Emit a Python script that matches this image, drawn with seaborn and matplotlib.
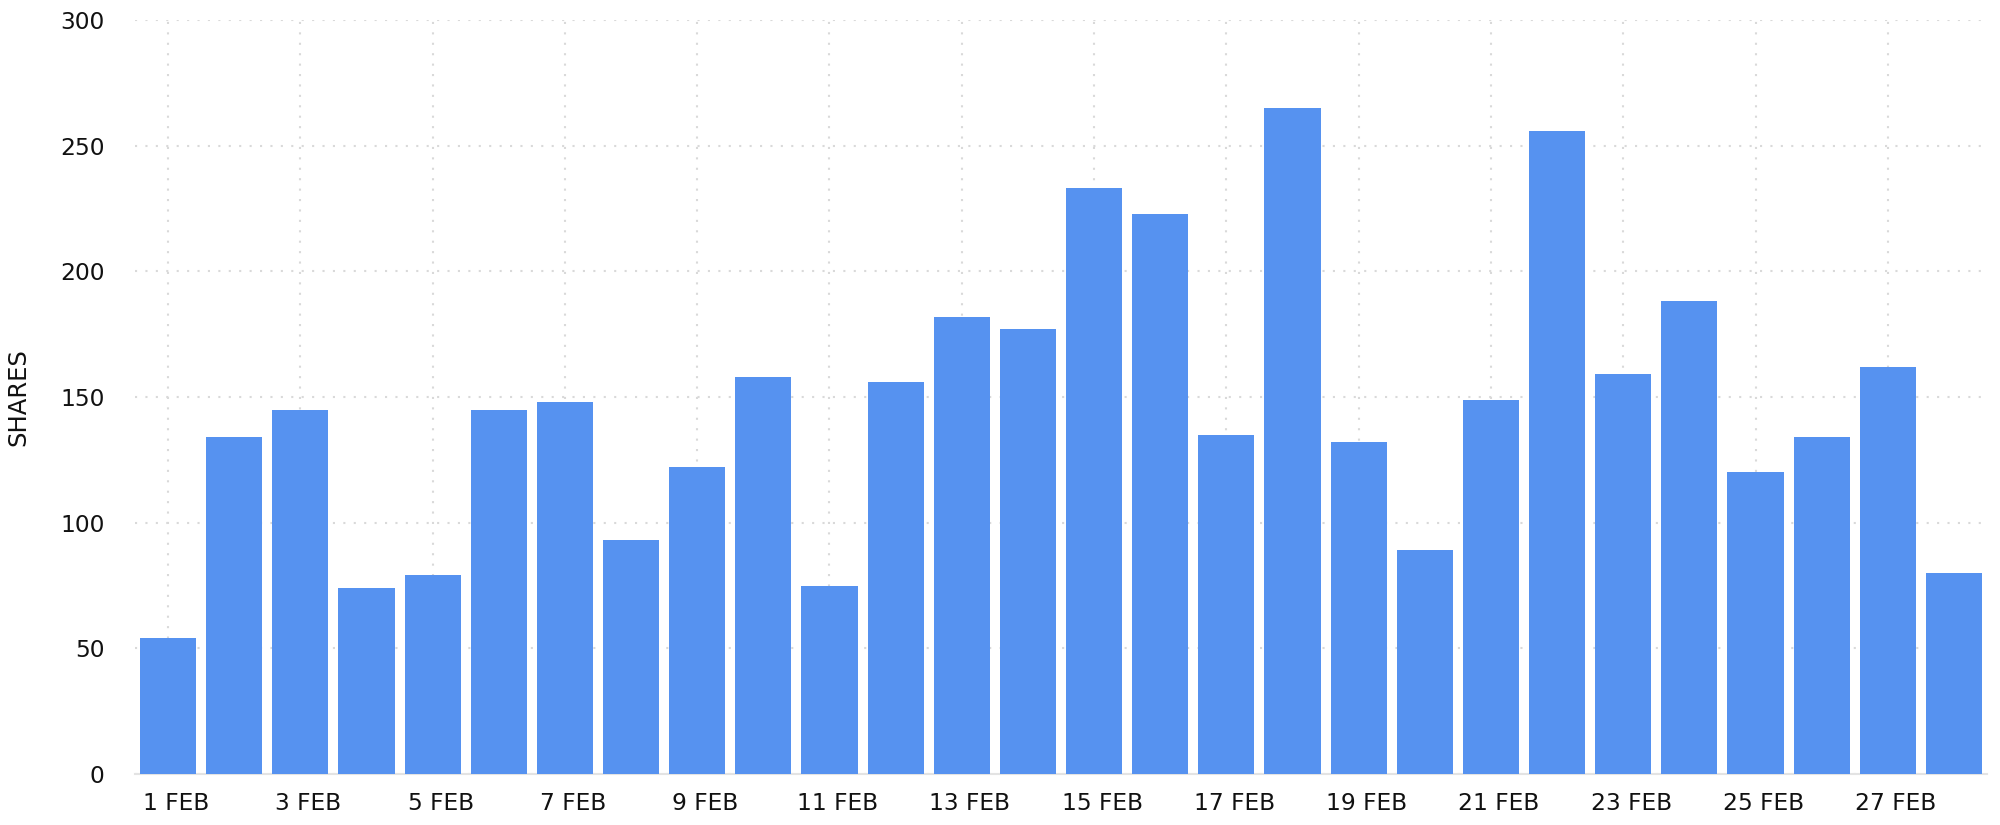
import matplotlib
matplotlib.use("Agg")
import matplotlib.pyplot as plt
import matplotlib.transforms as mtransforms
import seaborn as sns
import pandas as pd

# data
days = [f"{d} FEB" for d in range(1, 29)]
shares = [54, 134, 145, 74, 79, 145, 148, 93, 122, 158,
          75, 156, 182, 177, 233, 223, 135, 265, 132, 89,
          149, 256, 159, 188, 120, 134, 162, 80]
y_ticks = [0, 50, 100, 150, 200, 250, 300]

df = pd.DataFrame({"day": days, "shares": shares})

sns.set_style("white")
plt.rcParams['font.family'] = ['DejaVu Sans']

fig = plt.figure(figsize=(20, 8.25), dpi=100)
ax = fig.add_axes([0.0675, 0.0618, 0.926, 0.914])

sns.barplot(data=df, x="day", y="shares", color="#5692F0", saturation=1,
            width=0.85, edgecolor="none", ax=ax, zorder=3)

ax.set_xlim(-0.5, 27.5)
ax.set_ylim(0, 300)
ax.set_yticks(y_ticks)
ax.set_yticklabels([str(v) for v in y_ticks])
ax.set_xticks(range(0, 28, 2))
ax.set_xticklabels(days[::2])

# grid
ax.grid(True, axis="both", color="#d9d9d9", linestyle=(0, (1, 4)), linewidth=1.5, zorder=0)
ax.set_axisbelow(True)

for s in ["top", "right", "left"]:
    ax.spines[s].set_visible(False)
ax.spines["bottom"].set_color("#e3e3e3")
ax.spines["bottom"].set_linewidth(1.5)

ax.tick_params(axis="x", length=5, width=1.2, color="#e0e0e0", pad=8, labelsize=16.8, labelcolor="#111111")
ax.tick_params(axis="y", length=0, pad=22, labelsize=16.8, labelcolor="#111111")

# nudge x labels a little right like the reference
offset = mtransforms.ScaledTranslation(0.08, 0, fig.dpi_scale_trans)
for lab in ax.get_xticklabels():
    lab.set_transform(lab.get_transform() + offset)

ax.set_xlabel("")
ax.set_ylabel("SHARES", fontsize=17.5, color="#111111", labelpad=21)

plt.savefig("out.png", dpi=100)
